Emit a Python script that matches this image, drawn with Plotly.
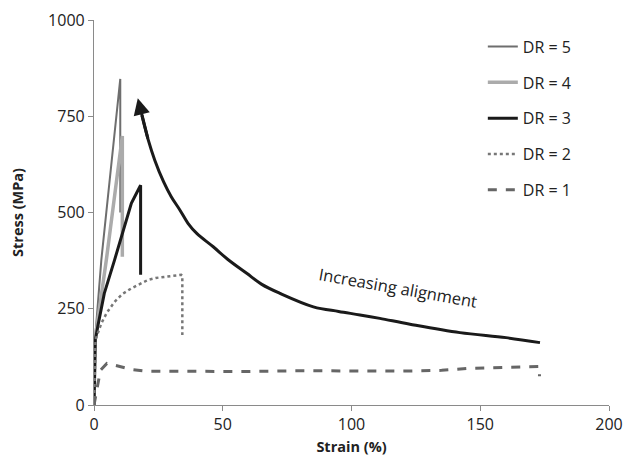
import plotly.graph_objects as go

# Strain (%) / Stress (MPa)
DR5_X = [0, 0.4, 2.85, 6, 10.2, 10.2]
DR5_Y = [0, 170, 377, 580, 847, 500]

DR4_X = [0, 0.4, 4.8, 8, 10.5, 11, 11]
DR4_Y = [0, 170, 377, 540, 660, 699, 385]

DR3_X = [0, 0.5, 1.5, 4, 8, 11.3, 14.5, 16.5, 18.1, 18.1]
DR3_Y = [0, 168, 205, 290, 377, 455, 524, 550, 571, 338]

DR2_X = [0, 0.3, 0.6, 2.85, 5, 8, 11, 14.5, 18, 21, 24, 27.4, 31, 33.9, 34.3, 34.3]
DR2_Y = [0, 120, 170, 212, 240, 268, 288, 303, 316, 325, 330, 333, 336, 338, 336, 182]

DR1_X = [0, 1, 2.5, 5, 10, 15, 20, 40, 60, 80, 100, 120, 135, 145, 160, 173, 173]
DR1_Y = [0, 40, 90, 108, 100, 92, 88, 88, 87, 89, 88, 88, 90, 95, 98, 100, 75]

ALIGN_X = [173.2, 160, 142.1, 122.7, 111, 103.3, 95, 85.2, 72.2, 65, 59.3, 52, 46.3, 40, 36.5, 33.4, 30, 27, 23.6, 21, 18.6]
ALIGN_Y = [162, 175, 188, 210, 225, 234, 243, 255, 290, 314, 342, 378, 411, 445, 472, 506, 541, 580, 636, 690, 752]
ARROW_TIP = (17.0, 797)
ANNOT_TEXT = "Increasing alignment"
ANNOT_POS = (118, 306)

X_TICKS = [0, 50, 100, 150, 200]
Y_TICKS = [0, 250, 500, 750, 1000]

FONT = "Open Sans"

series = [
    ("DR = 5", DR5_X, DR5_Y, dict(color="#6e6e6e", width=2)),
    ("DR = 4", DR4_X, DR4_Y, dict(color="#ababab", width=3.5)),
    ("DR = 3", DR3_X, DR3_Y, dict(color="#1a1a1a", width=3)),
    ("DR = 2", DR2_X, DR2_Y, dict(color="#777777", width=2.5, dash="dot")),
    ("DR = 1", DR1_X, DR1_Y, dict(color="#666666", width=3, dash="dash")),
]

fig = go.Figure()
for i, (name, xs, ys, ln) in enumerate(series):
    fig.add_trace(go.Scatter(x=xs, y=ys, mode="lines", name=name, line=ln,
                             legendgroup=f"g{i}"))

fig.add_trace(go.Scatter(x=ALIGN_X, y=ALIGN_Y, mode="lines", showlegend=False,
                         line=dict(color="#1a1a1a", width=3, shape="spline")))

fig.add_annotation(x=ARROW_TIP[0], y=ARROW_TIP[1], ax=ALIGN_X[-2], ay=ALIGN_Y[-2],
                   xref="x", yref="y", axref="x", ayref="y", text=" ",
                   font=dict(size=1), borderpad=0,
                   showarrow=True, arrowhead=2, arrowsize=1.1, arrowwidth=3,
                   arrowcolor="#1a1a1a", standoff=0, startstandoff=0)

fig.add_annotation(x=ANNOT_POS[0], y=ANNOT_POS[1], xref="x", yref="y",
                   text=ANNOT_TEXT, showarrow=False, textangle=10,
                   font=dict(family=FONT, size=16.5, color="#222222"))

axis_common = dict(showgrid=False, zeroline=False, showline=True, linecolor="#8a8a8a",
                   linewidth=1.2, ticks="outside", ticklen=5, tickcolor="#8a8a8a",
                   automargin=False,
                   tickfont=dict(family=FONT, size=16, color="#222222"))

fig.update_xaxes(range=[0, 200], tickvals=X_TICKS,
                 title=dict(text="<b>Strain (%)</b>", font=dict(family=FONT, size=14.5, color="#222222"),
                            standoff=11),
                 **axis_common)
fig.update_yaxes(range=[0, 1000], tickvals=Y_TICKS,
                 title=dict(text="<b>Stress (MPa)</b>", font=dict(family=FONT, size=14.5, color="#222222"),
                            standoff=21),
                 **axis_common)

fig.update_layout(
    width=627, height=456,
    margin=dict(l=94, r=18, t=20, b=51),
    paper_bgcolor="white", plot_bgcolor="white",
    legend=dict(x=0.755, y=0.975, xanchor="left", yanchor="top",
                font=dict(family=FONT, size=16, color="#222222"),
                tracegroupgap=12, bgcolor="rgba(0,0,0,0)"),
)

fig.write_html("out.html", config={"displayModeBar": False},
               post_script="document.body.style.margin='0';document.body.style.overflow='hidden';")
